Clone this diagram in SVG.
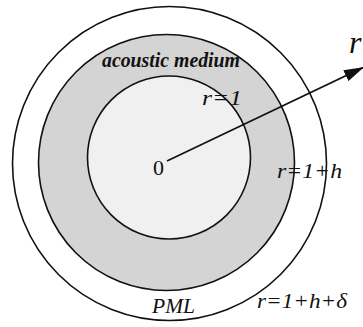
<svg xmlns="http://www.w3.org/2000/svg" width="363" height="327" viewBox="0 0 363 327">
<style>
.ring{stroke:#111;stroke-width:1.6}
.t{font-family:"Liberation Serif","Times New Roman",serif;fill:#111}
.i{font-style:italic}
</style>
<defs>
<marker id="ah" viewBox="0 0 20 12" refX="19" refY="6" markerWidth="20" markerHeight="12" markerUnits="userSpaceOnUse" orient="auto">
<path d="M0,0 L20,6 L0,12 z" fill="#111"/>
</marker>
</defs>
<rect width="363" height="327" fill="#fff"/>
<g id="pml">
<circle class="ring" cx="169.5" cy="163.5" r="157" fill="#fff"/>
<text class="t i" x="152" y="313" font-size="21" textLength="43" lengthAdjust="spacingAndGlyphs">PML</text>
<text class="t i" x="257" y="308" font-size="21" textLength="90" lengthAdjust="spacingAndGlyphs">r=1+h+δ</text>
</g>
<g id="medium">
<circle class="ring" cx="166.5" cy="162.5" r="128" fill="#d4d4d4"/>
<text class="t i" x="102" y="67" font-size="20" font-weight="bold" textLength="138" lengthAdjust="spacingAndGlyphs">acoustic medium</text>
<text class="t i" x="277" y="178" font-size="21" textLength="65" lengthAdjust="spacingAndGlyphs">r=1+h</text>
</g>
<g id="inner">
<circle class="ring" cx="169" cy="157.5" r="81.5" fill="#f0f0f0"/>
<text class="t" x="153" y="175" font-size="22">0</text>
</g>
<g id="connectors">
<line x1="167" y1="161" x2="363" y2="67.5" stroke="#111" stroke-width="1.6" marker-end="url(#ah)"/>
</g>
<g id="labels">
<text class="t i" x="202" y="105" font-size="21" textLength="40" lengthAdjust="spacingAndGlyphs">r=1</text>
<text class="t i" x="349" y="53" font-size="32">r</text>
</g>
</svg>
